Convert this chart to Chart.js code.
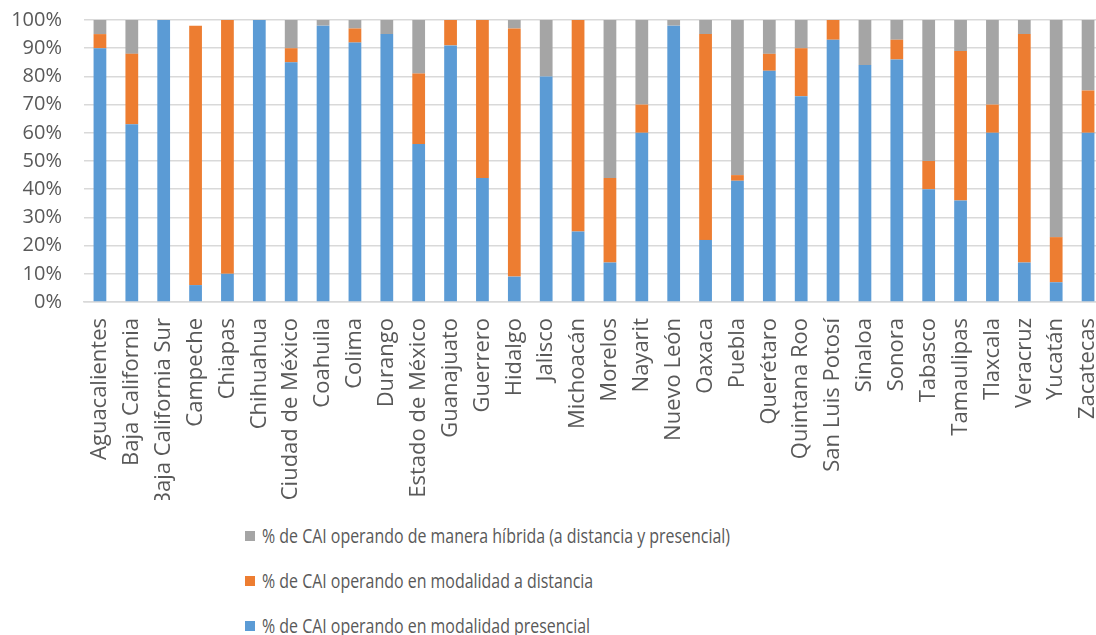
<!DOCTYPE html>
<html>
<head>
<meta charset="utf-8">
<script src="https://cdn.jsdelivr.net/npm/chart.js@4"></script>
<style>
  html, body { margin: 0; padding: 0; background: #fff; overflow: hidden; }
  #wrap { position: relative; width: 1104px; height: 500px; }
  #legend { position: absolute; left: 245px; top: 513px; font-family: "Open Sans", sans-serif; font-size: 20px; color: #595959; }
  #legend .row { height: 45px; display: flex; align-items: center; white-space: nowrap; }
  #legend .box { width: 10px; height: 10px; margin-right: 7px; flex: none; }
  #legend .txt { display: inline-block; transform-origin: left center; }
</style>
</head>
<body>
<div id="wrap"><canvas id="chart"></canvas></div>
<div id="legend"></div>
<script>
const categories = ['Aguacalientes', 'Baja California', 'Baja California Sur', 'Campeche', 'Chiapas', 'Chihuahua',
  'Ciudad de México', 'Coahuila', 'Colima', 'Durango', 'Estado de México', 'Guanajuato', 'Guerrero', 'Hidalgo',
  'Jalisco', 'Michoacán', 'Morelos', 'Nayarit', 'Nuevo León', 'Oaxaca', 'Puebla', 'Querétaro', 'Quintana Roo',
  'San Luis Potosí', 'Sinaloa', 'Sonora', 'Tabasco', 'Tamaulipas', 'Tlaxcala', 'Veracruz', 'Yucatán', 'Zacatecas'];

const presencial = [90, 63, 100, 6, 10, 100, 85, 98, 92, 95, 56, 91, 44, 9, 80, 25, 14, 60, 98, 22, 43, 82, 73, 93, 84, 86, 40, 36, 60, 14, 7, 60];
const distancia  = [5, 25, 0, 92, 90, 0, 5, 0, 5, 0, 25, 9, 56, 88, 0, 75, 30, 10, 0, 73, 2, 6, 17, 7, 0, 7, 10, 53, 10, 81, 16, 15];
const hibrida    = [5, 12, 0, 0, 0, 0, 10, 2, 3, 5, 19, 0, 0, 3, 20, 0, 56, 30, 2, 5, 55, 12, 10, 0, 16, 7, 50, 11, 30, 5, 77, 25];

const yTicks = [0, 10, 20, 30, 40, 50, 60, 70, 80, 90, 100];

const seriesNames = [
  '% de CAI operando en modalidad presencial',
  '% de CAI operando en modalidad a distancia',
  '% de CAI operando de manera híbrida (a distancia y presencial)'
];
const seriesColors = ['#5b9bd5', '#ed7d31', '#a5a5a5'];

const textColor = '#595959';
const fontFamily = '"Open Sans", sans-serif';

const datasets = [presencial, distancia, hibrida].map((d, i) => ({
  label: seriesNames[i],
  data: d,
  backgroundColor: seriesColors[i],
  barPercentage: 0.4,
  categoryPercentage: 1
}));

const canvas = document.getElementById('chart');
canvas.width = 1104;
canvas.height = 500;

new Chart(canvas.getContext('2d'), {
  type: 'bar',
  data: { labels: categories, datasets },
  options: {
    responsive: false,
    animation: false,
    layout: { padding: { top: 20, right: 0, left: 0, bottom: 0 } },
    plugins: { legend: { display: false }, tooltip: { enabled: false } },
    scales: {
      x: {
        stacked: true,
        grid: { display: false, drawTicks: false },
        border: { color: '#d9d9d9', width: 1.5 },
        ticks: { color: textColor, font: { family: fontFamily, size: 22 }, autoSkip: false, maxRotation: 90, minRotation: 90, padding: 16 },
        afterFit: s => { s.height = 198; s.paddingLeft = 0; s.paddingRight = 0; }
      },
      y: {
        stacked: true,
        min: 0,
        max: 100,
        afterBuildTicks: s => { s.ticks = yTicks.map(v => ({ value: v })); },
        grid: { color: '#d9d9d9', lineWidth: 1.5, drawTicks: false },
        border: { display: false },
        ticks: { color: textColor, font: { family: fontFamily, size: 20 }, padding: 22, autoSkip: false, callback: v => v + '%' },
        afterFit: s => { s.width = 84; s.paddingTop = 0; s.paddingBottom = 0; }
      }
    }
  }
});

// leyenda vertical, en orden inverso como en el original
const legend = document.getElementById('legend');
for (let i = seriesNames.length - 1; i >= 0; i--) {
  const row = document.createElement('div');
  row.className = 'row';
  row.innerHTML = `<span class="box" style="background:${seriesColors[i]}"></span><span class="txt">${seriesNames[i]}</span>`;
  legend.appendChild(row);
}
const first = legend.querySelector('.txt');
const sx = 468 / first.getBoundingClientRect().width;
legend.querySelectorAll('.txt').forEach(t => { t.style.transform = `scaleX(${sx})`; });
</script>
</body>
</html>
